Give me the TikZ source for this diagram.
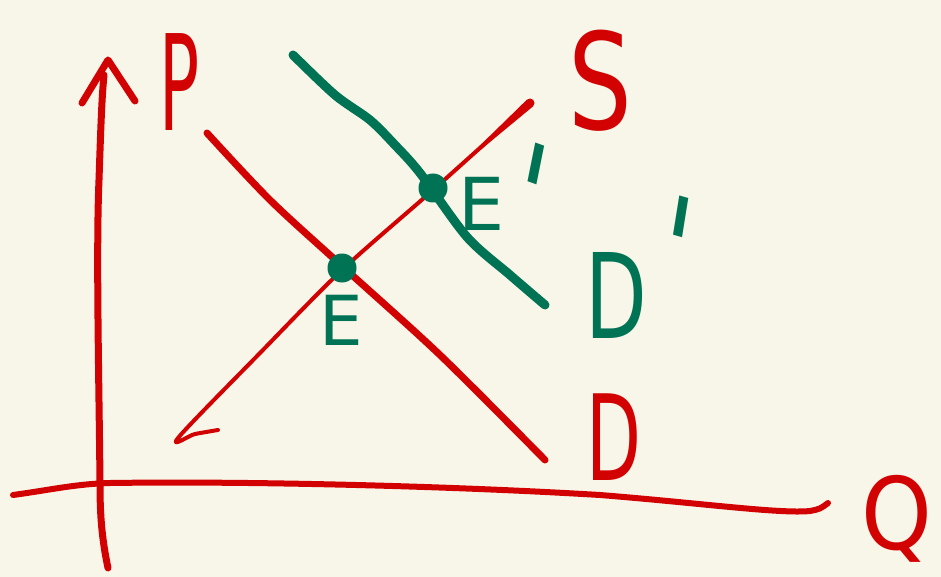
\documentclass[tikz,border=0pt]{standalone}
\usepackage{fontspec}
\setmainfont{DejaVu Sans}
\definecolor{bg}{RGB}{248,245,233}
\definecolor{penred}{RGB}{210,2,2}
\definecolor{pengreen}{RGB}{0,115,85}
\newcommand{\primetick}{\raisebox{-0.458em}[0.271em][0pt]{\textquotesingle}}
\tikzset{
  redpen/.style={draw=penred, line width=7pt, line cap=round, line join=round},
  thinpen/.style={draw=penred, line width=4pt, line cap=round, line join=round},
  greenpen/.style={draw=pengreen, line width=9pt, line cap=round, line join=round},
  letter/.style={inner sep=0pt, outer sep=0pt},
  eqdot/.style={circle, fill=pengreen, inner sep=0pt, minimum size=29pt}
}
\begin{document}
\begin{tikzpicture}[x=1pt,y=-1pt]
\fill[bg] (0,0) rectangle (941,577);
\useasboundingbox (0,0) rectangle (941,577);
% axes
\draw[redpen] (108,568) .. controls (101,535) and (100,510) .. (100,483)
  .. controls (99,380) and (96,250) .. (99,180) .. controls (101,120) and (102,95) .. (104,75);
\draw[redpen] (82,103) -- (108,60) -- (135,101);
\draw[redpen, line width=6pt] (13,495) .. controls (50,490) and (75,484) .. (110,483)
  .. controls (250,481) and (450,486) .. (600,495)
  .. controls (700,503) and (780,514) .. (810,511) .. controls (820,509) .. (828,503);
% equilibrium points
\coordinate (e) at (342,268);
\coordinate (ep) at (433,188);
% supply
\draw[thinpen] plot[smooth] coordinates {(218,430) (195,434) (178,438) (260,353) (342,270) (433,190) (530,103)};
\fill[penred] (481.2,149.3) -- (533,106.4) -- (527,99.6) -- (478.8,146.7) -- cycle;
\fill[penred] (530,103) circle (4.5pt);
% demand
\draw[redpen] plot[smooth] coordinates {(207,133) (270,200) (342,266) (440,355) (545,460)};
% new demand
\draw[greenpen] plot[smooth] coordinates {(293,55) (335,95) (370,120) (395,145) (420,173) (467,237) (510,275) (545,305)};
\node[eqdot] (E) at (e) {};
\node[eqdot] (Ep) at (ep) {};
% labels
\node[letter, text=penred, font=\fontsize{133}{133}\selectfont, xscale=0.5] (P) at (180,82) {P};
\node[letter, text=penred, font=\fontsize{134}{134}\selectfont, xscale=0.75] (S) at (600,81) {S};
\node[letter, text=pengreen, font=\fontsize{73}{73}\selectfont] (El) at (482,204) {E};
\node[letter, text=pengreen, font=\fontsize{69}{69}\selectfont] (Elow) at (341,320) {E};
\node[letter, text=pengreen, font=\fontsize{118}{118}\selectfont, xscale=0.68] (Dp) at (616,295) {D};
\node[letter, text=penred, font=\fontsize{119}{119}\selectfont, xscale=0.6] (D) at (614,437) {D};
\node[letter, text=penred, font=\fontsize{100}{100}\selectfont, xscale=0.9, anchor=north] (Q) at (897,475) {Q};
\node[letter, text=pengreen, font=\fontsize{148}{148}\selectfont, xscale=0.75, rotate=-15] (Epr) at (536,164) {\primetick};
\node[letter, text=pengreen, font=\fontsize{148}{148}\selectfont, xscale=0.75, rotate=-12] (Dpr) at (681,217) {\primetick};
\end{tikzpicture}
\end{document}
